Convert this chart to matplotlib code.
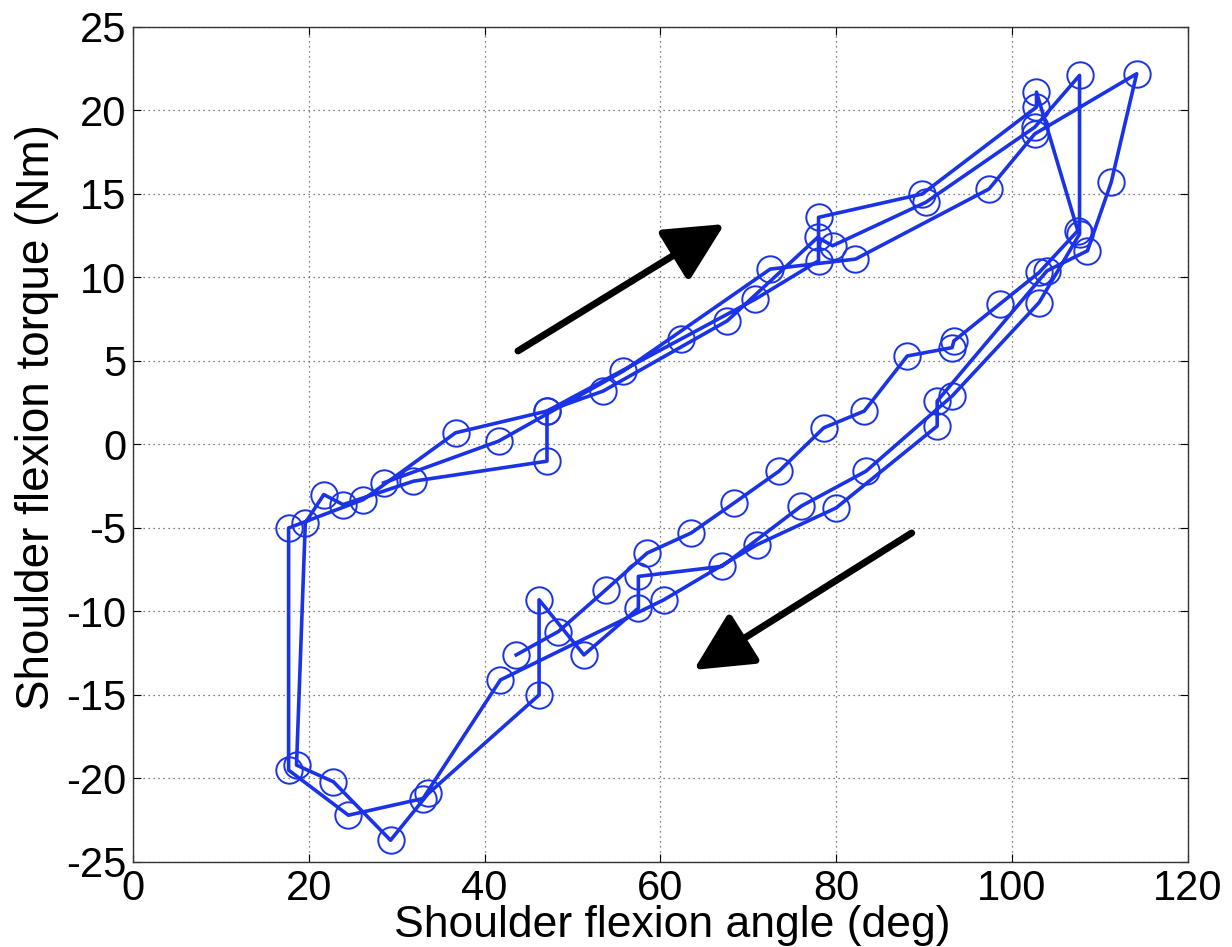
import matplotlib
matplotlib.use("Agg")
import matplotlib.pyplot as plt

plt.rcParams['font.family'] = ['Liberation Sans', 'DejaVu Sans']
plt.rcParams['axes.unicode_minus'] = False

# shoulder flexion angle (deg) and torque (Nm), in recorded order
angle = [28.5, 41.6, 55.8, 72.5, 82.2, 97.4, 102.6, 114.2, 111.3, 108.6,
         104.0, 91.5, 91.5, 80.0, 71.0, 60.4, 41.8, 33.0, 24.5, 17.7,
         17.7, 26.2, 36.7, 47.1, 53.5, 67.6, 77.9, 79.6, 90.2, 102.6,
         107.7, 107.7, 103.1, 93.2, 83.4, 76.0, 67.0, 57.5, 57.5, 51.3,
         46.2, 46.2, 33.6, 29.3, 22.8, 18.6, 19.6, 21.7, 23.9, 31.9,
         47.1, 47.1, 62.3, 70.8, 78.0, 78.0, 89.8, 102.8, 102.8, 107.5,
         103.1, 98.6, 93.4, 93.2, 88.1, 83.2, 78.6, 73.5, 68.4, 63.5,
         58.5, 53.8, 48.4, 43.6]
torque = [-2.3, 0.2, 4.4, 10.5, 11.1, 15.3, 18.6, 22.2, 15.7, 11.6,
          10.4, 2.6, 1.1, -3.8, -6.0, -9.3, -14.1, -21.2, -22.2, -19.5,
          -5.0, -3.3, 0.7, 2.0, 3.2, 7.4, 12.4, 11.9, 14.5, 19.0,
          22.1, 12.6, 8.5, 2.9, -1.6, -3.7, -7.3, -7.9, -9.8, -12.6,
          -9.3, -15.0, -20.9, -23.7, -20.2, -19.2, -4.7, -3.0, -3.6, -2.2,
          -1.0, 2.0, 6.3, 8.7, 11.0, 13.6, 15.0, 20.2, 21.1, 12.8,
          10.3, 8.4, 6.2, 5.8, 5.3, 2.0, 1.0, -1.6, -3.5, -5.3,
          -6.5, -8.7, -11.2, -12.6]

# direction arrows: (tail, head) in data units
arrow_up = ((43.8, 5.6), (67.3, 13.2))
arrow_down = ((88.6, -5.3), (63.8, -13.5))

fig = plt.figure(figsize=(12.32, 9.47), dpi=100)
ax = fig.add_axes([0.108, 0.0898, 0.856, 0.8817])

ax.plot(angle, torque, '-o', color='#1a33e6', lw=2.6,
        ms=19, mfc='none', mew=1.4, mec='#1a33e6')

for (x0, y0), (x1, y1) in (arrow_up, arrow_down):
    ax.annotate('', xy=(x1, y1), xytext=(x0, y0),
                arrowprops=dict(arrowstyle='-|>,head_length=0.9,head_width=0.45',
                                lw=5, color='k', mutation_scale=40,
                                shrinkA=0, shrinkB=0))

ax.set_xlim(0, 120)
ax.set_ylim(-25, 25)
ax.set_xticks(range(0, 121, 20))
ax.set_yticks(range(-25, 26, 5))
ax.grid(True, linestyle=(0, (1, 3)), color='#555555', lw=0.9)
ax.tick_params(direction='in', length=6, labelsize=30, pad=5,
               top=True, right=True)
for s in ax.spines.values():
    s.set_color('#333333')
    s.set_linewidth(1.0)

ax.set_xlabel('Shoulder flexion angle (deg)', fontsize=32)
ax.set_ylabel('Shoulder flexion torque (Nm)', fontsize=33)
ax.xaxis.set_label_coords(0.511, -0.052)
ax.yaxis.set_label_coords(-0.07, 0.533)

fig.savefig('out.png', dpi=100)
